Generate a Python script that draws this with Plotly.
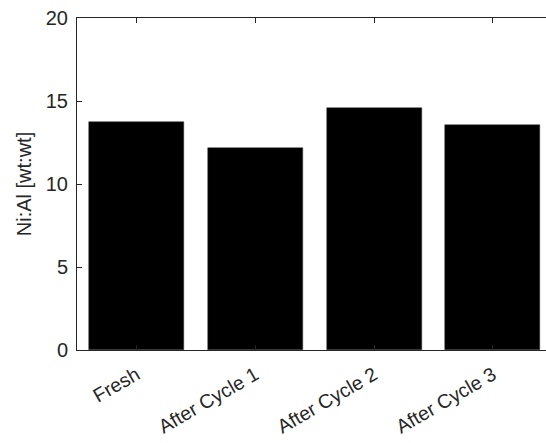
import plotly.graph_objects as go

categories = ["Fresh", "After Cycle 1", "After Cycle 2", "After Cycle 3"]
positions = [1, 2, 3, 4]
ni_al = [13.73, 12.16, 14.55, 13.55]
y_ticks = [0, 5, 10, 15, 20]

axis_color = "#262626"
font_family = "Liberation Sans, Arial, Helvetica, sans-serif"

fig = go.Figure()
fig.add_trace(go.Bar(
    x=positions, y=ni_al, width=0.8,
    marker=dict(color="black", line=dict(color="#333333", width=0.5)),
    showlegend=False,
))

fig.update_layout(
    width=546, height=443,
    margin=dict(l=77, r=0, t=18, b=93),
    plot_bgcolor="white", paper_bgcolor="white",
    font=dict(family=font_family, size=20, color=axis_color),
    bargap=0,
)
fig.update_xaxes(
    range=[0.5, 4.447],
    tickmode="array", tickvals=positions, ticktext=categories,
    tickangle=-30,
    ticks="inside", ticklen=5, tickwidth=1, tickcolor=axis_color,
    showline=True, linecolor=axis_color, linewidth=1,
    mirror="ticks", showgrid=False, zeroline=False,
    tickfont=dict(size=19.5, color=axis_color),
    ticklabelstandoff=5,
)
fig.update_yaxes(
    range=[0, 20],
    tickmode="array", tickvals=y_ticks,
    ticks="inside", ticklen=5, tickwidth=1, tickcolor=axis_color,
    showline=True, linecolor=axis_color, linewidth=1,
    mirror=False, showgrid=False, zeroline=False,
    tickfont=dict(size=20, color=axis_color),
    ticklabelstandoff=4,
    title=dict(text="Ni:Al [wt:wt]", font=dict(size=20, color=axis_color), standoff=8),
)

fig.write_html("out.html")
